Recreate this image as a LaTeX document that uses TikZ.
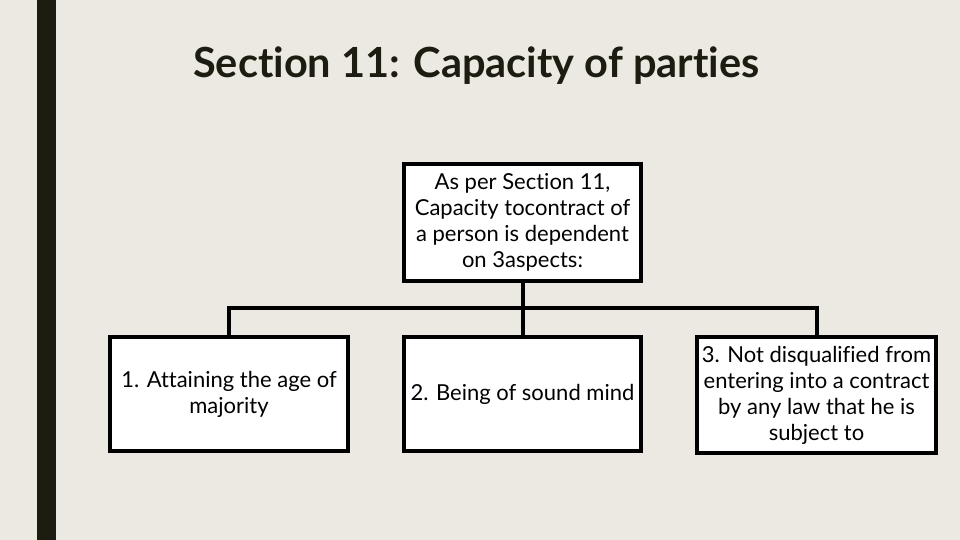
\documentclass[tikz,border=0pt]{standalone}
\usepackage{fontspec}
\setmainfont[Ligatures=NoCommon]{Lato}
\newfontfamily\titlefont[Ligatures=NoCommon]{Lato Bold}
\definecolor{bgc}{RGB}{236,233,226}
\definecolor{barc}{RGB}{28,28,16}
\begin{document}
\begin{tikzpicture}[x=1pt,y=-1pt,
  box/.style={draw=black, line width=4pt, fill=white, inner sep=0pt, align=center,
    font=\fontsize{22}{26}\selectfont},
  conn/.style={draw=black, line width=4pt}]
\fill[bgc] (0,0) rectangle (960,540);
\useasboundingbox (0,0) rectangle (960,540);
\fill[barc] (37,0) rectangle (56,540);
\node[anchor=base west, inner sep=0pt, text=barc, font=\titlefont\fontsize{41.5}{48}\selectfont] (title) at (193,78) {Section 11: Capacity of parties};
\node[box, minimum width=237, minimum height=117] (top) at (522.5,222.5) {As per Section 11,\\Capacity tocontract of\\a person is dependent\\on 3aspects:};
\node[box, minimum width=238, minimum height=114] (left) at (229,394) {1. Attaining the age of\\majority};
\node[box, minimum width=237, minimum height=114] (mid) at (522.5,394) {2. Being of sound mind};
\node[box, minimum width=239, minimum height=116] (right) at (816.5,395) {3. Not disqualified from\\entering into a contract\\by any law that he is\\subject to};
\coordinate (j) at (522.5,308);
\draw[conn] (top.south) -- (j);
\draw[conn] (left.north) |- (j) -| (right.north);
\draw[conn] (j) -- (mid.north);
\end{tikzpicture}
\end{document}
